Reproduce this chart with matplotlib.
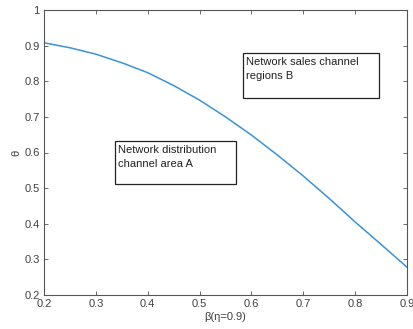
import matplotlib
matplotlib.use('Agg')
import matplotlib.pyplot as plt
from matplotlib.patches import Rectangle

plt.rcParams['font.family'] = ['Liberation Sans', 'DejaVu Sans']

beta = [0.2, 0.25, 0.3, 0.35, 0.4, 0.45, 0.5, 0.55, 0.6, 0.65, 0.7, 0.75, 0.8, 0.85, 0.9]
theta = [0.908, 0.894, 0.876, 0.852, 0.824, 0.788, 0.747, 0.700, 0.649, 0.593, 0.534, 0.471, 0.405, 0.342, 0.278]

xticks = [0.2, 0.3, 0.4, 0.5, 0.6, 0.7, 0.8, 0.9]
yticks = [0.2, 0.3, 0.4, 0.5, 0.6, 0.7, 0.8, 0.9, 1]

label_a = "Network distribution\nchannel area A"
label_b = "Network sales channel\nregions B"

fig = plt.figure(figsize=(4.13, 3.29), dpi=100)
ax = fig.add_axes([44/413, 34/329, 363/413, 285/329])

ax.plot(beta, theta, color='#3a93d6', lw=1.1)
ax.set_xlim(0.2, 0.9)
ax.set_ylim(0.2, 1)
ax.set_xticks(xticks)
ax.set_xticklabels([f"{v:g}" for v in xticks])
ax.set_yticks(yticks)
ax.set_yticklabels([f"{v:g}" for v in yticks])

gray = '#555555'
for s in ax.spines.values():
    s.set_color(gray)
    s.set_linewidth(0.8)
ax.tick_params(direction='in', top=True, right=True, length=3, width=0.6,
               color=gray, labelcolor='#404040', labelsize=8, pad=3)
ax.set_xlabel('β(η=0.9)', fontsize=8, color='#404040', labelpad=2)
ax.set_ylabel('θ', fontsize=8, color='#404040', labelpad=2)

# text boxes (axes fraction)
for (x0, y0, x1, y1), txt in [((0.196, 0.389, 0.529, 0.540), label_a),
                              ((0.548, 0.691, 0.923, 0.849), label_b)]:
    ax.add_patch(Rectangle((x0, y0), x1 - x0, y1 - y0, transform=ax.transAxes,
                           fill=True, facecolor='white', edgecolor='#222222', lw=0.9))
    ax.text(x0 + 0.008, y1 - 0.015, txt, transform=ax.transAxes, fontsize=8,
            va='top', ha='left', color='#222222', linespacing=1.45)

fig.savefig('out.png', dpi=100)
